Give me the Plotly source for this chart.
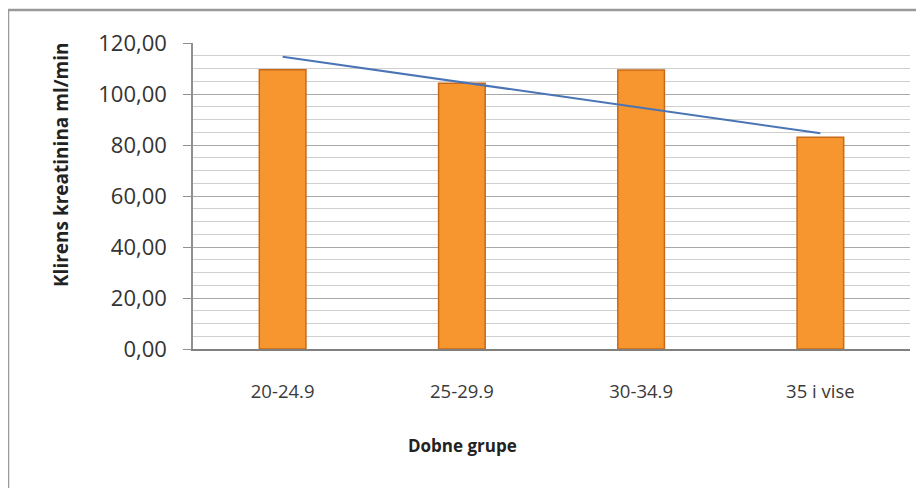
import plotly.graph_objects as go

categories = ["20-24.9", "25-29.9", "30-34.9", "35 i vise"]
clearance = [109.5, 104.2, 109.4, 83.0]
trend = [114.6, 104.6, 94.6, 84.6]
y_tick_vals = [0, 20, 40, 60, 80, 100, 120]
y_tick_text = ["0,00", "20,00", "40,00", "60,00", "80,00", "100,00", "120,00"]

W, H = 924, 488
OFF = 8  # page body margin
L, R, T = 193 - OFF, 22, 43 - OFF
BOTTOM = 349 - OFF
B = H - BOTTOM
pw, ph = W - L - R, H - T - B

def px(x):
    return (x - OFF - L) / pw

def py(y):
    return (BOTTOM - (y - OFF)) / ph

fig = go.Figure()
fig.add_trace(go.Bar(
    x=categories, y=clearance,
    marker=dict(color="#F7962E", line=dict(color="#C8691A", width=1.5)),
    width=0.26, showlegend=False,
))
fig.add_trace(go.Scatter(
    x=categories, y=trend, mode="lines",
    line=dict(color="#4A74B5", width=2), showlegend=False,
))

fig.update_layout(
    width=W, height=H,
    margin=dict(l=L, r=R, t=T, b=B),
    paper_bgcolor="white", plot_bgcolor="white",
    font=dict(family="Open Sans", color="#333333"),
    xaxis=dict(
        showgrid=False, showline=True, linecolor="#808080", linewidth=1.5,
        ticks="", tickfont=dict(size=18.5, color="#3a3a3a"),
        ticklabelstandoff=25,
    ),
    yaxis=dict(
        range=[0, 120], tickvals=y_tick_vals, ticktext=y_tick_text,
        tickfont=dict(size=22, color="#333333"),
        ticklabelstandoff=12,
        showgrid=True, gridcolor="#A8A8A8", gridwidth=1.2,
        showline=True, linecolor="#909090", linewidth=1.5,
        ticks="outside", ticklen=8, tickcolor="#909090",
        minor=dict(dtick=5, showgrid=True, gridcolor="#CFCFCF", gridwidth=1),
        zeroline=False,
    ),
    annotations=[
        dict(
            text="<b>Klirens kreatinina ml/min</b>", textangle=-90,
            xref="paper", yref="paper", x=px(61), y=py(165),
            xanchor="center", yanchor="middle",
            showarrow=False, font=dict(size=19, color="#222222"),
        ),
        dict(
            text="<b>Dobne grupe</b>",
            xref="paper", yref="paper", x=px(462), y=py(445),
            xanchor="center", yanchor="middle",
            showarrow=False, font=dict(size=17, color="#222222"),
        ),
    ],
    shapes=[dict(
        type="rect", xref="paper", yref="paper",
        x0=px(8), x1=px(960), y0=py(520), y1=py(10),
        line=dict(color="#9A9A9A", width=2.5), layer="below",
    )],
)

fig.write_html("out.html")
